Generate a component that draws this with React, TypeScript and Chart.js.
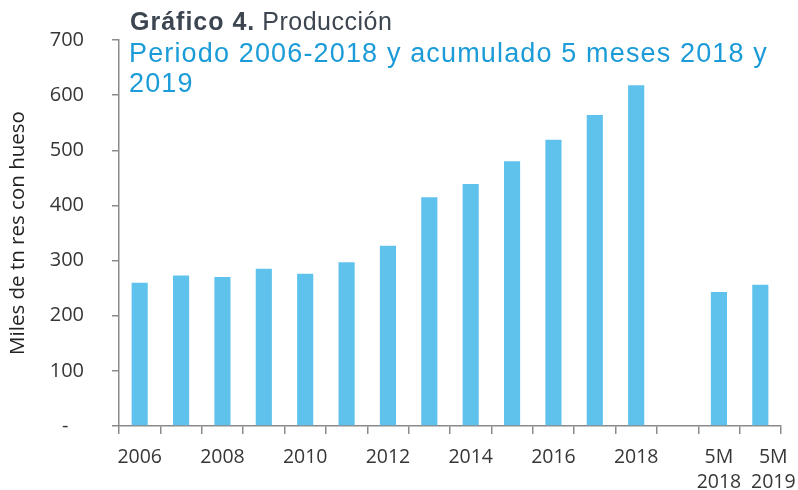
import React, { useEffect, useRef } from "react";
import { Chart, registerables } from "chart.js";

Chart.register(...registerables);

const categories = ["2006", "2007", "2008", "2009", "2010", "2011", "2012", "2013", "2014", "2015", "2016", "2017", "2018", "", "5M 2018", "5M 2019"];
const tickLabels: (string | string[])[] = ["2006", "", "2008", "", "2010", "", "2012", "", "2014", "", "2016", "", "2018", "", ["5M", "2018"], ["5M", "2019"]];
const production: (number | null)[] = [260, 273, 270, 285, 276, 297, 327, 415, 439, 480, 519, 564, 618, null, 243, 256];
const yTicks = [0, 100, 200, 300, 400, 500, 600, 700];

const titleBold = "Gráfico 4.";
const titleRest = "Producción";
const subtitleLines = ["Periodo 2006-2018 y acumulado 5 meses 2018 y", "2019"];
const yTitle = "Miles de tn res con hueso";

// Nudges the last x label rightwards, as in the original layout
const lastLabelNudge = {
  id: "lastLabelNudge",
  beforeDraw(chart: any) {
    const scale = chart.scales.x;
    if (!scale) return;
    const items = scale.getLabelItems();
    const last = items[items.length - 1];
    if (last && !last._nudged) {
      last.options.translation = [last.options.translation[0] + 13, last.options.translation[1]];
      last._nudged = true;
    }
  },
};

export default function App() {
  const ref = useRef<HTMLCanvasElement | null>(null);
  useEffect(() => {
    if (!ref.current) return;
    const axisColor = "#8a8a8a";
    const textColor = "#363636";
    const chart = new Chart(ref.current, {
      type: "bar",
      data: {
        labels: categories,
        datasets: [
          {
            data: production,
            backgroundColor: "#5fc2ec",
            barPercentage: 0.39,
            categoryPercentage: 1,
          },
        ],
      },
      plugins: [lastLabelNudge],
      options: {
        animation: false,
        responsive: false,
        devicePixelRatio: 1,
        layout: { padding: { top: 35, right: 17, left: 0, bottom: 0 } },
        plugins: { legend: { display: false }, tooltip: { enabled: false }, title: { display: false } },
        scales: {
          x: {
            type: "category",
            offset: true,
            grid: { display: true, drawOnChartArea: false, drawTicks: true, tickLength: 8, offset: true, color: axisColor, lineWidth: 1.5 },
            border: { display: true, color: axisColor, width: 1.5 },
            ticks: {
              autoSkip: false,
              maxRotation: 0,
              minRotation: 0,
              padding: 10,
              color: textColor,
              font: { family: "'Open Sans'", size: 19.5, lineHeight: 1.33 },
              callback: (_v: any, i: number) => tickLabels[i],
            },
            afterFit: (s: any) => {
              s.height = 64;
            },
          },
          y: {
            min: 0,
            max: 700,
            afterBuildTicks: (s: any) => {
              s.ticks = yTicks.map((v) => ({ value: v }));
            },
            grid: { display: true, drawOnChartArea: false, drawTicks: true, tickLength: 7, color: axisColor, lineWidth: 1.5 },
            border: { display: true, color: axisColor, width: 1.5 },
            ticks: {
              padding: 28,
              color: textColor,
              font: { family: "'Open Sans'", size: 20 },
              callback: (v: any) => (Number(v) === 0 ? "-   " : String(v)),
            },
            title: {
              display: true,
              text: yTitle,
              color: "#222",
              font: { family: "'Open Sans'", size: 20.5 },
              padding: { top: 6, bottom: 0 },
            },
            afterFit: (s: any) => {
              s.width = 119;
            },
          },
        },
      },
    });
    return () => chart.destroy();
  }, []);

  return (
    <div style={{ position: "absolute", left: 0, top: 0, width: 798, height: 490, background: "#fff" }}>
      <canvas ref={ref} width={798} height={490} style={{ display: "block" }} />
      <div
        style={{
          position: "absolute",
          left: 130,
          top: 9,
          fontFamily: "'Liberation Sans', Arial, sans-serif",
          fontSize: 25,
          lineHeight: "25px",
          color: "#3d4650",
          whiteSpace: "nowrap",
        }}
      >
        <span style={{ fontWeight: "bold", letterSpacing: "1px" }}>{titleBold}</span>{" "}
        <span style={{ letterSpacing: "0.5px" }}>{titleRest}</span>
      </div>
      <div
        style={{
          position: "absolute",
          left: 129,
          top: 38,
          fontFamily: "'Liberation Sans', Arial, sans-serif",
          fontSize: 27,
          lineHeight: "30px",
          letterSpacing: "1.15px",
          color: "#1b9bd7",
          whiteSpace: "nowrap",
        }}
      >
        {subtitleLines.map((l, i) => (
          <div key={i}>{l}</div>
        ))}
      </div>
    </div>
  );
}
